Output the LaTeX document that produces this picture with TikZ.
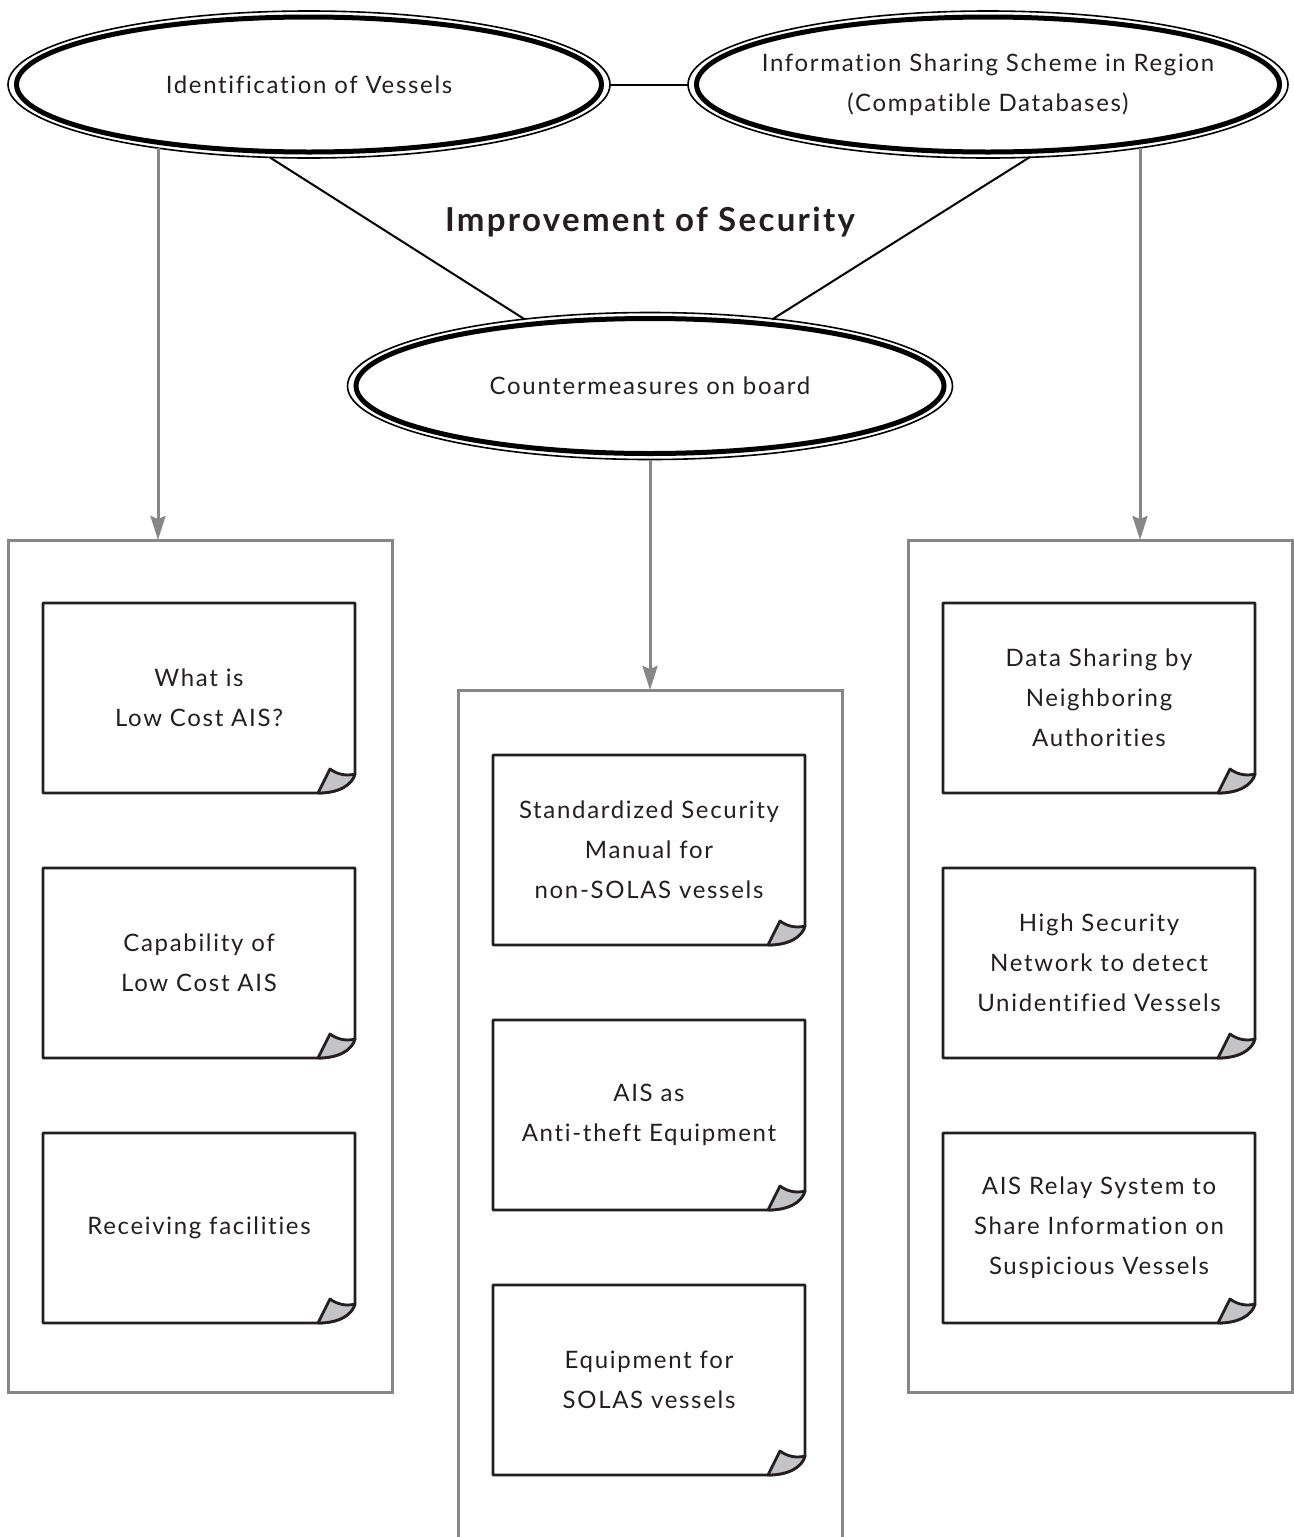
\documentclass[tikz,border=0pt]{standalone}
\usepackage{fontspec}
\setmainfont{Lato}[LetterSpace=7, Ligatures=NoCommon]
\usetikzlibrary{shapes.geometric,arrows.meta,calc}
\definecolor{linegray}{RGB}{135,135,135}
\definecolor{foldgray}{RGB}{196,196,198}
\definecolor{inkblack}{RGB}{35,31,32}
\newcommand\ovalnode[6]{%
  \node[oval, minimum width=#4pt, minimum height=73.5pt] (#1) at (#2,#3) {};
  \draw[line width=2.5pt] (#1.center) ellipse [x radius=#5, y radius=67.5];
  \node[ovaltext] (#1-text) at (#1.center) {#6};
}
\newcommand\notecard[4]{%
  \node[note] (#1) at (#2,#3) {#4};
  \draw[inkblack, line width=1.4pt, line join=round]
    (#1.north west) -- (#1.north east) -- ([yshift=9.5pt]#1.south east)
    .. controls ([xshift=-1.5pt,yshift=4pt]#1.south east) and ([xshift=-8pt]#1.south east)
    .. ([xshift=-18.5pt]#1.south east) -- (#1.south west) -- cycle;
  \draw[inkblack, fill=foldgray, line width=1.4pt, line join=round]
    ([xshift=-18.5pt]#1.south east) -- ([xshift=-12.5pt,yshift=12pt]#1.south east)
    .. controls ([xshift=-8.5pt,yshift=9pt]#1.south east) and ([xshift=-4pt,yshift=8.5pt]#1.south east)
    .. ([yshift=9.5pt]#1.south east)
    .. controls ([xshift=-1.5pt,yshift=4pt]#1.south east) and ([xshift=-8pt]#1.south east)
    .. ([xshift=-18.5pt]#1.south east) -- cycle;
}
\begin{document}
\begin{tikzpicture}[x=0.5pt,y=-0.5pt,
  font=\fontsize{12}{20}\selectfont,
  oval/.style={ellipse, draw=black, line width=0.8pt, inner sep=0pt, outer sep=0pt},
  ovaltext/.style={align=center, inner sep=0pt, text=inkblack},
  note/.style={rectangle, minimum width=156pt, minimum height=95pt, inner sep=0pt, outer sep=0pt, align=center, text=inkblack},
  container/.style={rectangle, draw=linegray, line width=1.5pt, inner sep=0pt, outer sep=0pt},
  garrow/.style={draw=linegray, line width=1.5pt, -{Stealth[length=12pt,width=7.5pt,inset=1.5pt]}},
  link/.style={draw=black, line width=1pt}]
\useasboundingbox (0,0) rectangle (1294,1537);
\clip (0,0) rectangle (1294,1537);

% containers
\node[container, minimum width=192pt, minimum height=426pt] (lbox) at (200,966) {};
\node[container, minimum width=192pt, minimum height=455pt] (mbox) at (650,1145) {};
\node[container, minimum width=192pt, minimum height=426pt] (rbox) at (1100,966) {};

% ovals
\ovalnode{e1}{309}{84.5}{301}{292.5}{Identification of Vessels}
\ovalnode{e2}{988}{84.5}{300}{291.5}{Information Sharing Scheme in Region\\(Compatible Databases)}
\ovalnode{e3}{650}{386}{302.5}{294}{Countermeasures on board}

\node[font=\fontsize{16.5}{20}\selectfont\bfseries, text=inkblack] (title) at (650,222) {Improvement of Security};

% links
\draw[link] (e1.east) -- (e2.west);
\draw[link] ($(e1.center)+(-39,73)$) -- ($(e3.center)+(-125,-66.5)$);
\draw[link] ($(e2.center)+(42,72.5)$) -- ($(e3.center)+(122,-66.5)$);

% arrows
\draw[garrow] ($(e1.center)+(-151,63.5)$) coordinate (la) -- (la |- lbox.north);
\draw[garrow] ($(e2.center)+(152,63)$) coordinate (ra) -- (ra |- rbox.north);
\draw[garrow] (e3.south) -- (e3.south |- mbox.north);

% notes
\notecard{n1}{199}{698}{What is\\Low Cost AIS?}
\notecard{n2}{199}{963}{Capability of\\Low Cost AIS}
\notecard{n3}{199}{1228}{Receiving facilities}
\notecard{m1}{649}{850}{Standardized Security\\Manual for\\non-SOLAS vessels}
\notecard{m2}{649}{1115}{AIS as\\Anti-theft Equipment}
\notecard{m3}{649}{1380}{Equipment for\\SOLAS vessels}
\notecard{r1}{1099}{698}{Data Sharing by\\Neighboring\\Authorities}
\notecard{r2}{1099}{963}{High Security\\Network to detect\\Unidentified Vessels}
\notecard{r3}{1099}{1228}{AIS Relay System to\\Share Information on\\Suspicious Vessels}
\end{tikzpicture}
\end{document}
